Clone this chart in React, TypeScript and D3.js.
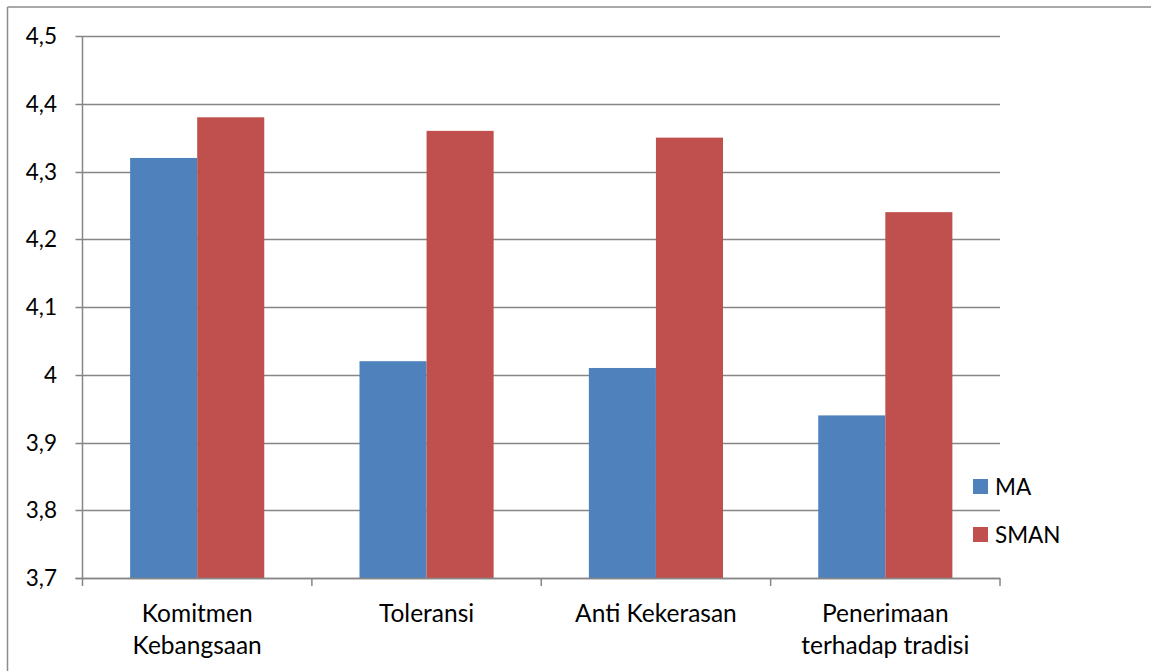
import React from "react";
import * as d3 from "d3";

const categories: string[][] = [
  ["Komitmen", "Kebangsaan"],
  ["Toleransi"],
  ["Anti Kekerasan"],
  ["Penerimaan", "terhadap tradisi"],
];
const seriesNames = ["MA", "SMAN"];
const maValues = [4.32, 4.02, 4.01, 3.94];
const smanValues = [4.38, 4.36, 4.35, 4.24];
const yTicks = [3.7, 3.8, 3.9, 4.0, 4.1, 4.2, 4.3, 4.4, 4.5];
const colors = ["#4F81BD", "#C0504D"];

const W = 1151;
const H = 671;
const left = 82.5;
const right = 1000;
const top = 36;
const bottom = 578;
const font = "Lato, 'Open Sans', sans-serif";

export default function App() {
  const keys = categories.map((c) => c.join(" "));
  const x = d3.scaleBand<string>().domain(keys).range([left, right]).paddingInner(0).paddingOuter(0);
  const inner = d3.scaleBand<string>().domain(seriesNames).range([0, x.bandwidth()]).paddingInner(0).paddingOuter(0.71);
  const y = d3.scaleLinear().domain([3.7, 4.5]).range([bottom, top]);
  const fmt = (v: number) => (Math.round(v * 10) % 10 === 0 ? String(Math.round(v)) : v.toFixed(1).replace(".", ","));
  const series = [maValues, smanValues];

  return (
    <svg width={W} height={H} style={{ position: "absolute", left: 0, top: 0, background: "#fff" }}>
      <line x1={7.5} y1={7} x2={W} y2={7} stroke="#8c8c8c" strokeWidth={1.5} />
      <line x1={7.5} y1={7} x2={7.5} y2={H} stroke="#8c8c8c" strokeWidth={1.5} />
      {yTicks.map((t) => (
        <g key={t}>
          <line x1={left - 7} x2={right} y1={Math.round(y(t)) + 0.5} y2={Math.round(y(t)) + 0.5} stroke="#868686" strokeWidth={1.5} />
          <text x={57} y={y(t)} dy="0.36em" textAnchor="end" fontFamily={font} fontSize={22.5} fill="#000">
            {fmt(t)}
          </text>
        </g>
      ))}
      <line x1={left} x2={left} y1={top} y2={bottom} stroke="#868686" strokeWidth={1.5} />
      {series.map((vals, si) =>
        vals.map((v, i) => (
          <rect
            key={`${si}-${i}`}
            x={(x(keys[i]) as number) + (inner(seriesNames[si]) as number)}
            y={y(v)}
            width={inner.bandwidth()}
            height={bottom - y(v)}
            fill={colors[si]}
          />
        ))
      )}
      <line x1={left - 7} x2={right} y1={bottom + 0.5} y2={bottom + 0.5} stroke="#868686" strokeWidth={1.5} />
      {[...keys.map((k) => x(k) as number), right].map((px, i) => (
        <line key={i} x1={px} x2={px} y1={bottom} y2={bottom + 8} stroke="#868686" strokeWidth={1.5} />
      ))}
      {categories.map((lines, i) => (
        <text key={i} x={(x(keys[i]) as number) + x.bandwidth() / 2} textAnchor="middle" fontFamily={font} fontSize={24.5} fill="#000">
          {lines.map((l, j) => (
            <tspan key={j} x={(x(keys[i]) as number) + x.bandwidth() / 2} y={622 + j * 32}>
              {l}
            </tspan>
          ))}
        </text>
      ))}
      {seriesNames.map((s, i) => (
        <g key={s}>
          <rect x={973} y={479 + i * 48} width={15} height={15} fill={colors[i]} />
          <text x={995} y={487 + i * 48} dy="0.36em" fontFamily={font} fontSize={22.5} fill="#000">
            {s}
          </text>
        </g>
      ))}
    </svg>
  );
}
